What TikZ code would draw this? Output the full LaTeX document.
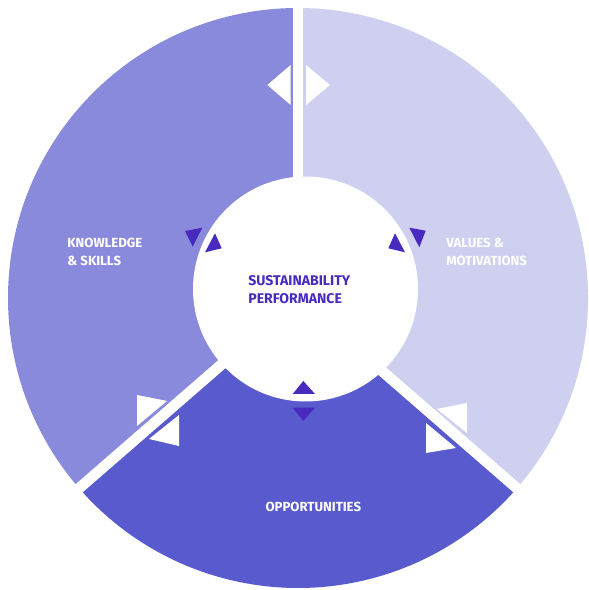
\documentclass[tikz,border=0pt]{standalone}
\usepackage{fontspec}
\setmainfont{Fira Sans}
\definecolor{knowcol}{RGB}{138,138,220}
\definecolor{valuecol}{RGB}{207,207,240}
\definecolor{oppcol}{RGB}{88,90,205}
\definecolor{darkcol}{RGB}{72,42,190}
\tikzset{
	gap/.style={white, line width=6.1pt},
	lbl/.style={white, inner sep=0pt, align=left, font=\fontsize{7.5}{10.4}\selectfont\bfseries}
}
\begin{document}
\begin{tikzpicture}[x=0.02cm, y=0.02cm, line join=round]
	\useasboundingbox (0,0) rectangle (588,590);
	\path
	(298,292) coordinate (O)
	(305.5,301) coordinate (I)
	;
	% three sectors
	\fill[knowcol] (O) -- ++(90:290) arc (90:221:290) -- cycle;
	\fill[oppcol] (O) -- ++(221:290) arc (221:319:290) -- cycle;
	\fill[valuecol] (O) -- ++(-41:290) arc (-41:90:290) -- cycle;
	% white arrows at the gaps
	\foreach \p/\q/\r in {267.3/505/290.7, 330/505/306}
	\fill[white] (\p,\q) -- (\r,525) -- (\r,485) -- cycle;
	\foreach \a/\b/\c/\d/\e/\f in {137/195/167/189/137/164, 179/175/179/144/149/151, 437/181/467/187/467/157, 426/167/426/137/456/142}
	\fill[white] (\a,\b) -- (\c,\d) -- (\e,\f) -- cycle;
	\foreach \g in {90,221,319} \draw[gap] (O) -- ++(\g:296);
	% centre
	\fill[white] (I) circle (112.5);
	\foreach \a/\b/\c/\d/\e/\f in {185/359/202.3/362.3/192.7/343.3, 215/356.7/205/337.7/221.7/341.7, 395/356.7/388.3/341.7/405/337.7, 409.3/362.3/425.7/359.3/419.3/342.7, 303.3/209/292.7/196/315/196, 292.7/182.3/315/182.3/303.3/169}
	\fill[darkcol] (\a,\b) -- (\c,\d) -- (\e,\f) -- cycle;
	\node[lbl, anchor=north west] (know) at (67,352) {KNOWLEDGE\\\& SKILLS};
	\node[lbl, anchor=north west] (value) at (446,352) {VALUES \&\\MOTIVATIONS};
	\node[lbl, anchor=north] (opp) at (313.3,88.3) {OPPORTUNITIES};
	\node[lbl, darkcol, anchor=north west, font=\fontsize{8}{10.6}\selectfont\bfseries] (perf) at (248,315) {SUSTAINABILITY\\PERFORMANCE};
\end{tikzpicture}
\end{document}
